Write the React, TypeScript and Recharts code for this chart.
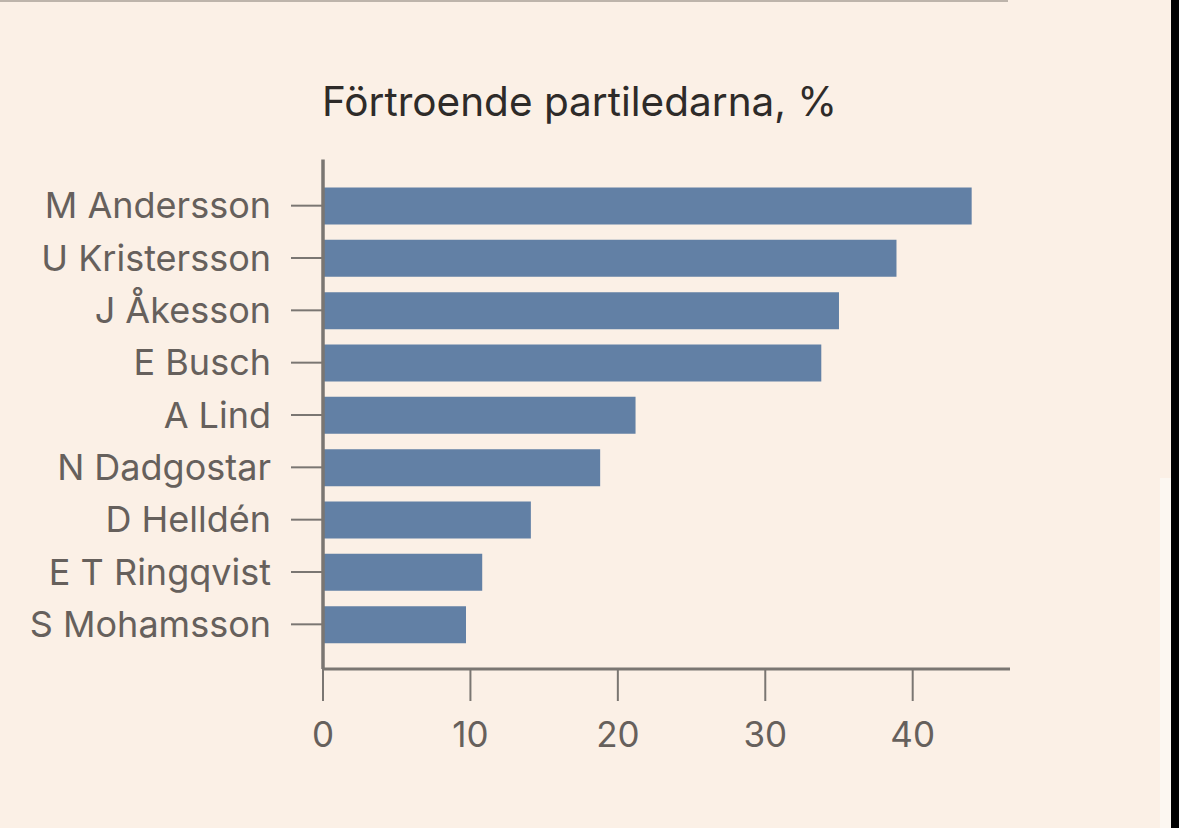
import React from "react";
import { BarChart, Bar, XAxis, YAxis } from "recharts";

const names = [
  "M Andersson",
  "U Kristersson",
  "J Åkesson",
  "E Busch",
  "A Lind",
  "N Dadgostar",
  "D Helldén",
  "E T Ringqvist",
  "S Mohamsson",
];
const values = [44.0, 38.9, 35.0, 33.8, 21.2, 18.8, 14.1, 10.8, 9.7];
const xTicks = [0, 10, 20, 30, 40];
const title = "Förtroende partiledarna, %";

const data = names.map((name, i) => ({ name, value: values[i] }));

const BG = "#FBF0E6";
const BAR = "#6280A5";
const AXIS = "#7a7672";
const LABEL = "#66605c";
const FONT = "Inter, 'Noto Sans', sans-serif";

export default function App() {
  return (
    <div
      style={{
        position: "fixed",
        left: 0,
        top: 0,
        width: 1179,
        height: 828,
        background: BG,
        overflow: "hidden",
        fontFamily: FONT,
      }}
    >
      <div
        style={{
          position: "absolute",
          left: 0,
          top: 0,
          width: 1008,
          height: 2,
          background: "#bdb4ab",
        }}
      />
      <div
        style={{
          position: "absolute",
          left: 1160,
          top: 478,
          width: 11,
          height: 350,
          background: "#FCF7F1",
        }}
      />
      <div
        style={{
          position: "absolute",
          left: 1171,
          top: 0,
          width: 8,
          height: 828,
          background: "#000",
        }}
      />
      <div
        style={{
          position: "absolute",
          left: 322,
          top: 78,
          fontSize: 40.5,
          lineHeight: "48px",
          color: "#2e2b29",
          whiteSpace: "nowrap",
        }}
      >
        {title}
      </div>
      <div style={{ position: "absolute", left: 0, top: 0 }}>
        <BarChart
          width={1179}
          height={828}
          data={data}
          layout="vertical"
          margin={{ top: 159.5, right: 169, bottom: 99, left: 0 }}
        >
          <Bar
            dataKey="value"
            fill={BAR}
            barSize={37}
            isAnimationActive={false}
          />
          <XAxis
            type="number"
            domain={[0, 46.6]}
            ticks={xTicks}
            allowDataOverflow
            height={60}
            axisLine={{ stroke: AXIS, strokeWidth: 3 }}
            tickLine={{ stroke: AXIS, strokeWidth: 2 }}
            tickSize={32}
            tickMargin={21}
            tick={{ fill: LABEL, fontSize: 35, fontFamily: FONT }}
          />
          <YAxis
            type="category"
            dataKey="name"
            width={323}
            padding={{ top: 20, bottom: 18.5 }}
            axisLine={{ stroke: AXIS, strokeWidth: 3.5 }}
            tickLine={{ stroke: AXIS, strokeWidth: 2 }}
            tickSize={32}
            tickMargin={20}
            interval={0}
            tick={{ fill: LABEL, fontSize: 36, fontFamily: FONT }}
          />
        </BarChart>
      </div>
    </div>
  );
}
